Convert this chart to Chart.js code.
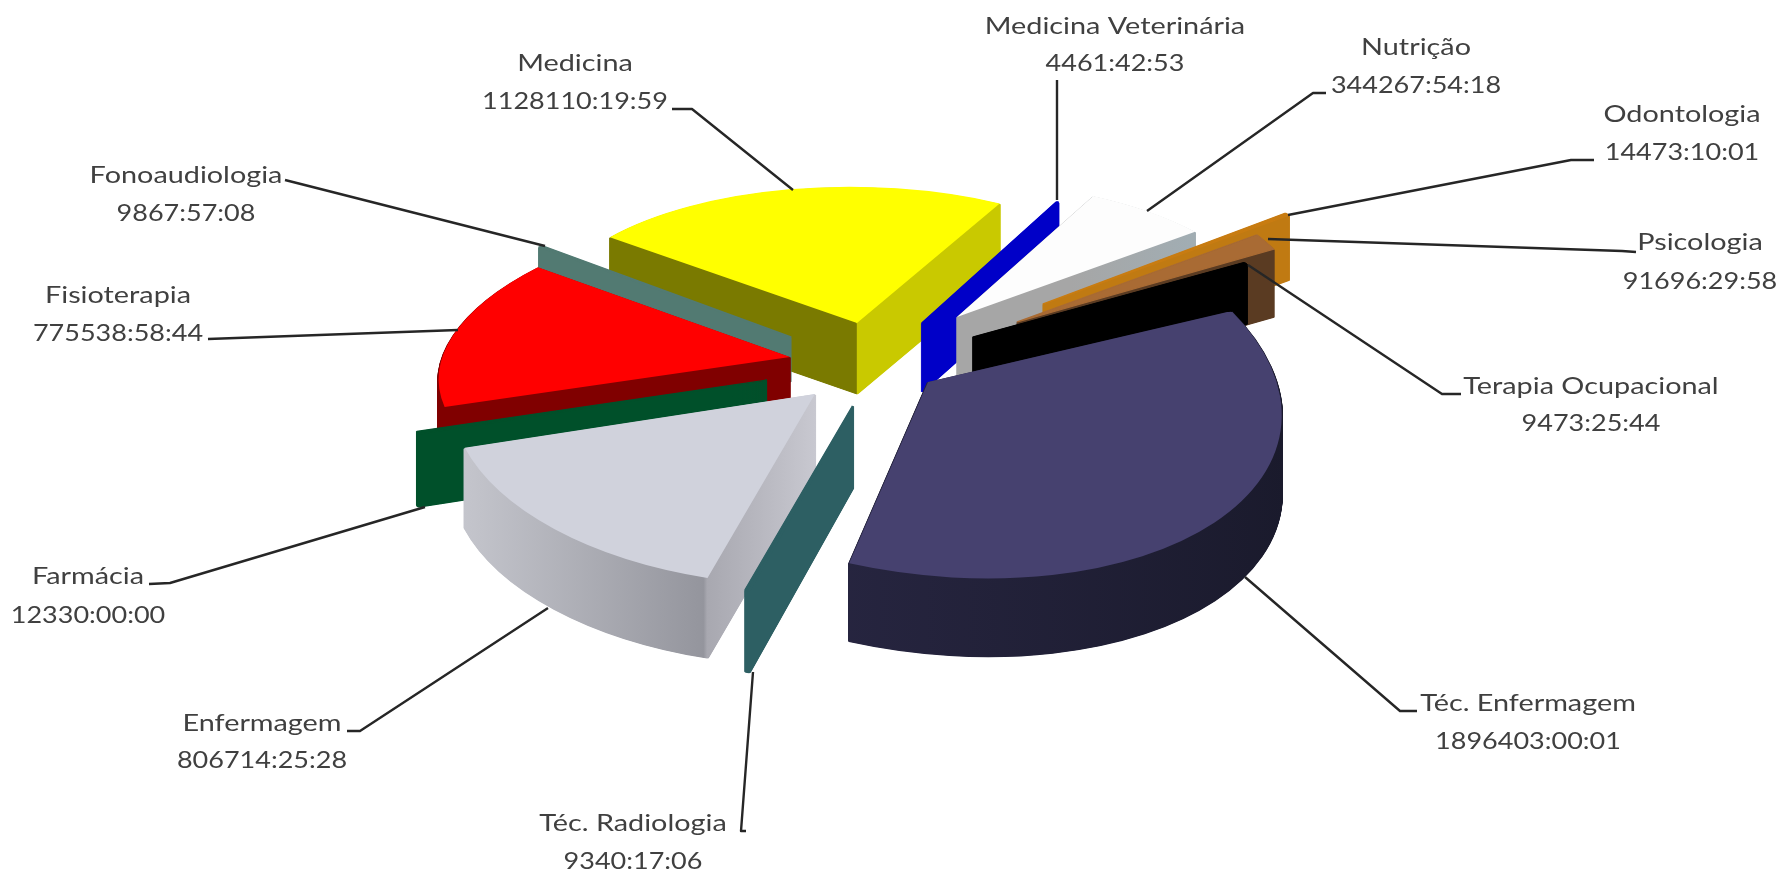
<!DOCTYPE html>
<html lang="pt">
<head>
<meta charset="utf-8">
<style>
html,body{margin:0;padding:0;background:#fff;overflow:hidden}
canvas{display:block;filter:blur(0.5px)}
</style>
<script src="https://cdn.jsdelivr.net/npm/chart.js@4"></script>
</head>
<body>
<canvas id="c" width="1792" height="871"></canvas>
<script>
// ---- data ----
const categories = ["Medicina Veterinária","Nutrição","Odontologia","Psicologia","Terapia Ocupacional","Téc. Enfermagem","Téc. Radiologia","Enfermagem","Farmácia","Fisioterapia","Fonoaudiologia","Medicina"];
const durationLabels = ["4461:42:53","344267:54:18","14473:10:01","91696:29:58","9473:25:44","1896403:00:01","9340:17:06","806714:25:28","12330:00:00","775538:58:44","9867:57:08","1128110:19:59"];
const hours = [4461.71,344267.9,14473.17,91696.5,9473.43,1896403,9340.29,806714.42,12330,775538.98,9867.95,1128110.33];

// ---- styles ----
const topColors  = ["#0000c8","#fdfdfd","#c87c12","#a96b34","#000000","#46416f","#2d5f63","#d0d2dc","#00502a","#ff0000","#527a72","#ffff00"];
const topBorders = [3,0,3,3,3,0,3,0,3,0,3,0];
const wallBorders = [4,3,4,4,6,3,3,3,3,3,3,3];
// wall colour stops along the slice's own x axis: [t, colour]
const wallStops = [
  [[0,"#0000c8"],[1,"#0000c8"]],
  [[0,"#a6a6a6"],[.7,"#a6a6a6"],[1,"#9fb0b8"]],
  [[0,"#c07a12"],[1,"#c07a12"]],
  [[0,"#5a3b22"],[1,"#5a3b22"]],
  [[0,"#000000"],[1,"#000000"]],
  [[0,"#2c2a49"],[1,"#1a1a2c"]],
  [[0,"#2d5f63"],[1,"#2d5f63"]],
  [[0,"#c6c7ce"],[.33,"#94959d"],[.335,"#a8a8b0"],[.5,"#c8c8d0"],[1,"#c8c8d0"]],
  [[0,"#00502a"],[1,"#00502a"]],
  [[0,"#800000"],[1,"#800000"]],
  [[0,"#527a72"],[1,"#527a72"]],
  [[0,"#7a7a00"],[.499,"#7a7a00"],[.5,"#c9c900"],[1,"#c9c900"]]
];
// projection of each exploded slice: apex on the page, 2x2 tilt matrix [a,c,b,d], wall height
const projection = [
  {p:[922,323], m:[307,33,-13,135], h:69},
  {p:[957,317], m:[307,33,-13,135], h:62},
  {p:[1043,304],m:[310,30,-10,150], h:65},
  {p:[1017,322],m:[290,10,-8,150],  h:68},
  {p:[973,337], m:[316,30,-10,150], h:60},
  {p:[928,382], m:[352,35,14,196],  h:78},
  {p:[853,406], m:[364,13,-8,192],  h:82},
  {p:[815,394], m:[364,13,-8,192],  h:80},
  {p:[767,380], m:[358,-5,-10,185], h:73},
  {p:[790,357], m:[351,-15,-16,153],h:70},
  {p:[791,337], m:[351,-15,-16,153],h:45},
  {p:[857,323], m:[311,26,-8,136],  h:71}
];
const paintOrder = [11,10,0,1,2,3,4,9,8,7,6,5];
// label text centre, two baselines, leader polyline
const labelLayout = [
  {x:1115,y:[34,71],  l:[[1057,80],[1057,200]]},
  {x:1416,y:[55,93],  l:[[1326,93],[1313,93],[1147,211]]},
  {x:1682,y:[122,160],l:[[1594,160],[1571,160],[1288,215]]},
  {x:1700,y:[250,289],l:[[1636,252],[1622,251],[1268,239]]},
  {x:1591,y:[394,431],l:[[1461,394],[1442,394],[1248,265]]},
  {x:1528,y:[711,749],l:[[1417,711],[1400,711],[1245,577]]},
  {x:633, y:[831,869],l:[[746,831],[741,831],[753,672]]},
  {x:262, y:[731,768],l:[[347,731],[360,731],[548,608]]},
  {x:88,  y:[584,623],l:[[149,584],[170,583],[425,507]]},
  {x:118, y:[303,341],l:[[208,339],[458,330]]},
  {x:186, y:[183,221],l:[[285,180],[545,246]]},
  {x:575, y:[71,109], l:[[672,109],[692,109],[793,190]]}
];

const pie3d = {
  id:'pie3d',
  beforeDatasetsDraw(chart){
    const ctx = chart.ctx;
    const arcs = chart.getDatasetMeta(0).data;
    paintOrder.forEach(i=>{
      const arc = arcs[i], pr = projection[i], R = arc.outerRadius;
      const [a,c,b,d] = pr.m;
      const tf = (dy)=>{
        ctx.transform(a/R,b/R,c/R,d/R,
          pr.p[0]-(a*arc.x+c*arc.y)/R,
          pr.p[1]+dy-(b*arc.x+d*arc.y)/R);
      };
      const grad = ctx.createLinearGradient(arc.x-R,0,arc.x+R,0);
      wallStops[i].forEach(s=>grad.addColorStop(s[0],s[1]));
      const wall = Object.create(arc);
      wall.options = Object.assign({},arc.options,{backgroundColor:grad,borderColor:grad,borderWidth:wallBorders[i]});
      for(let y=pr.h;y>=1;y-=0.5){
        ctx.save(); tf(y); wall.draw(ctx); ctx.restore();
      }
      ctx.save(); tf(0); arc.draw(ctx); ctx.restore();
    });
    return false;
  },
  afterDraw(chart){
    const ctx = chart.ctx;
    ctx.save();
    ctx.strokeStyle='#262626'; ctx.lineWidth=2.4; ctx.lineJoin='round';
    labelLayout.forEach(L=>{
      ctx.beginPath();
      L.l.forEach((pt,k)=>k?ctx.lineTo(pt[0],pt[1]):ctx.moveTo(pt[0],pt[1]));
      ctx.stroke();
    });
    ctx.fillStyle='#404040';
    ctx.font='24px Lato';
    ctx.textAlign='center'; ctx.textBaseline='alphabetic';
    const put=(t,x,y,sx)=>{ctx.save();ctx.translate(x,y);ctx.scale(sx,1);ctx.fillText(t,0,0);ctx.restore();};
    labelLayout.forEach((L,i)=>{
      put(categories[i],L.x,L.y[0],1.2);
      put(durationLabels[i],L.x,L.y[1],1.125);
    });
    ctx.restore();
  }
};

new Chart(document.getElementById('c'),{
  type:'pie',
  data:{labels:categories,datasets:[{data:hours,backgroundColor:topColors,borderColor:topColors,borderWidth:topBorders}]},
  options:{
    responsive:false,animation:false,rotation:32,
    layout:{padding:0},
    plugins:{legend:{display:false},tooltip:{enabled:false},title:{display:false}},
    events:[]
  },
  plugins:[pie3d]
});
</script>
</body>
</html>
